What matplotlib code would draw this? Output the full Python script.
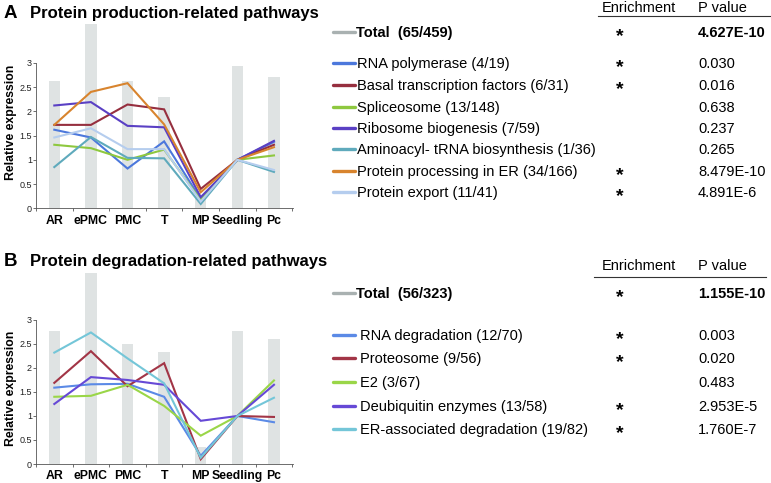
import matplotlib
matplotlib.use("Agg")
import matplotlib.pyplot as plt
from matplotlib.lines import Line2D

plt.rcParams['font.family'] = ['Liberation Sans', 'DejaVu Sans']

W, H = 771, 483

stages = ['AR', 'ePMC', 'PMC', 'T', 'MP', 'Seedling', 'Pc']

# Panel A: Protein production-related pathways
a_total = [2.63, 3.80, 2.63, 2.29, 0.24, 2.93, 2.70]
a_rna_pol = [1.62, 1.46, 0.82, 1.38, 0.19, 1.0, 1.37]
a_basal = [1.72, 1.72, 2.14, 2.04, 0.40, 1.0, 1.31]
a_splice = [1.31, 1.24, 1.00, 1.21, 0.17, 1.0, 1.09]
a_ribo = [2.12, 2.19, 1.70, 1.67, 0.23, 1.0, 1.39]
a_amino = [0.85, 1.47, 1.04, 1.03, 0.09, 1.0, 0.75]
a_er = [1.72, 2.40, 2.58, 1.73, 0.33, 1.0, 1.26]
a_export = [1.46, 1.65, 1.22, 1.22, 0.14, 1.0, 0.79]

a_labels = ['RNA polymerase (4/19)', 'Basal transcription factors (6/31)',
            'Spliceosome (13/148)', 'Ribosome biogenesis (7/59)',
            'Aminoacyl- tRNA biosynthesis (1/36)', 'Protein processing in ER (34/166)',
            'Protein export (11/41)']
a_enrich = ['*', '*', '', '', '', '*', '*']
a_pvals = ['0.030', '0.016', '0.638', '0.237', '0.265', '8.479E-10', '4.891E-6']
a_total_label = 'Total  (65/459)'
a_total_p = '4.627E-10'

# Panel B: Protein degradation-related pathways
b_total = [2.78, 3.97, 2.49, 2.34, 0.36, 2.78, 2.60]
b_rna_deg = [1.59, 1.66, 1.67, 1.40, 0.17, 1.0, 0.87]
b_proteo = [1.69, 2.35, 1.62, 2.10, 0.10, 1.0, 0.98]
b_e2 = [1.40, 1.42, 1.65, 1.21, 0.59, 1.0, 1.74]
b_deub = [1.25, 1.81, 1.75, 1.65, 0.90, 1.0, 1.65]
b_erad = [2.32, 2.74, 2.20, 1.68, 0.13, 1.0, 1.38]

b_labels = ['RNA degradation (12/70)', 'Proteosome (9/56)', 'E2 (3/67)',
            'Deubiquitin enzymes (13/58)', 'ER-associated degradation (19/82)']
b_enrich = ['*', '*', '', '*', '*']
b_pvals = ['0.003', '0.020', '0.483', '2.953E-5', '1.760E-7']
b_total_label = 'Total  (56/323)'
b_total_p = '1.155E-10'

a_colors = ['#4c78dc', '#962f3f', '#8ec83f', '#5a40c4', '#5faabc', '#d8842e', '#b5cdee']
b_colors = ['#5b8ae6', '#a23546', '#9ad648', '#6649d6', '#74c6d8']
bar_color = '#dfe3e3'
total_color = '#a9b1b1'

fig = plt.figure(figsize=(W / 100, H / 100), dpi=100)


def fx(x):
    return x / W


def fy(y):
    return 1 - y / H


def make_panel(top_px, bottom_px, ymax, totals, series, colors):
    ax = fig.add_axes([fx(36), fy(bottom_px), (293 - 36) / W, (bottom_px - top_px) / H])
    xs = list(range(len(stages)))
    ax.bar(xs, totals, width=0.31, color=bar_color, zorder=1)
    for vals, c in zip(series, colors):
        ax.plot(xs, vals, color=c, lw=1.5, zorder=3, solid_joinstyle='miter')
    ax.set_xlim(-0.47, 6.52)
    ax.set_ylim(0, ymax)
    for s in ['top', 'right']:
        ax.spines[s].set_visible(False)
    ax.spines['left'].set_bounds(0, 3)
    ax.spines['left'].set_color('#555555')
    ax.spines['bottom'].set_color('#555555')
    ax.spines['left'].set_linewidth(0.6)
    ax.spines['bottom'].set_linewidth(0.6)
    ax.set_yticks([0, 0.5, 1, 1.5, 2, 2.5, 3])
    ax.set_yticklabels(['0', '0.5', '1', '1.5', '2', '2.5', '3'])
    ax.tick_params(axis='y', direction='out', length=2, width=0.6, pad=1,
                   labelsize=6.5, colors='#555555', labelcolor='#222222')
    ax.set_xticks(xs)
    ax.set_xticklabels(stages, fontweight='bold', fontsize=8.8)
    ax.tick_params(axis='x', which='major', length=0, pad=4.5)
    ax.set_xticks([i + 0.5 for i in range(-1, 7)], minor=True)
    ax.tick_params(axis='x', which='minor', direction='out', length=2.5, width=0.6,
                   colors='#555555')
    ax.patch.set_alpha(0)
    return ax


make_panel(24, 208.3, 3.80, a_total,
           [a_rna_pol, a_basal, a_splice, a_ribo, a_amino, a_er, a_export], a_colors)
make_panel(273.4, 464, 3.97, b_total,
           [b_rna_deg, b_proteo, b_e2, b_deub, b_erad], b_colors)

# Titles
fig.text(fx(4), fy(18.3), 'A', fontsize=13.5, fontweight='bold', va='baseline')
fig.text(fx(30), fy(18.3), 'Protein production-related pathways', fontsize=12,
         fontweight='bold', va='baseline')
fig.text(fx(4), fy(266), 'B', fontsize=13.5, fontweight='bold', va='baseline')
fig.text(fx(30), fy(266), 'Protein degradation-related pathways', fontsize=12,
         fontweight='bold', va='baseline')

# Y labels
fig.text(fx(11), fy(122), 'Relative expression', rotation=90, fontsize=8.8,
         fontweight='bold', ha='center', va='center')
fig.text(fx(11), fy(388), 'Relative expression', rotation=90, fontsize=8.8,
         fontweight='bold', ha='center', va='center')

FS = 10.5
STAR_OFF = 9


def table(header_y, line_y, line_x0, line_x1, total_y, total_label, total_p,
          rows_y, labels, enrich, pvals, colors, text_x):
    fig.text(fx(602), fy(header_y + 5), 'Enrichment', fontsize=FS, va='baseline')
    fig.text(fx(698), fy(header_y + 5), 'P value', fontsize=FS, va='baseline')
    fig.add_artist(Line2D([fx(line_x0), fx(line_x1)], [fy(line_y), fy(line_y)],
                          color='#333333', lw=0.8))
    # total row
    fig.add_artist(Line2D([fx(333), fx(355)], [fy(total_y), fy(total_y)],
                          color=total_color, lw=2.4, solid_capstyle='round'))
    fig.text(fx(356), fy(total_y + 5), total_label, fontsize=FS, fontweight='bold',
             va='baseline')
    fig.text(fx(620), fy(total_y + STAR_OFF), '*', fontsize=14, fontweight='bold',
             ha='center', va='baseline')
    fig.text(fx(698), fy(total_y + 5), total_p, fontsize=FS, fontweight='bold',
             va='baseline')
    for y, lab, e, p, c in zip(rows_y, labels, enrich, pvals, colors):
        fig.add_artist(Line2D([fx(333), fx(355)], [fy(y), fy(y)], color=c, lw=2.4,
                              solid_capstyle='round'))
        fig.text(fx(text_x), fy(y + 5), lab, fontsize=FS, va='baseline')
        if e:
            fig.text(fx(620), fy(y + STAR_OFF), e, fontsize=14, fontweight='bold',
                     ha='center', va='baseline')
        fig.text(fx(698), fy(y + 5), p, fontsize=FS, va='baseline')


table(7, 16, 598, 771, 32.3, a_total_label, a_total_p,
      [63.3, 85, 106.7, 127.7, 149, 170.7, 192.3], a_labels, a_enrich, a_pvals,
      a_colors, 357)
table(265, 277.3, 594, 766, 292.7, b_total_label, b_total_p,
      [335, 358.3, 381.7, 405.7, 429.3], b_labels, b_enrich, b_pvals, b_colors, 360)

fig.savefig('out.png', dpi=100)
